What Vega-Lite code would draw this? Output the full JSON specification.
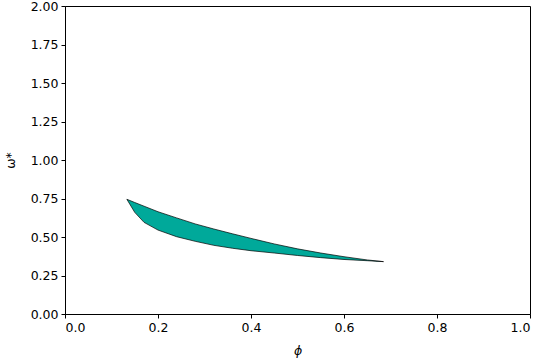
{
  "$schema": "https://vega.github.io/schema/vega-lite/v6.json",
  "width": 465,
  "height": 308,
  "autosize": "none",
  "padding": {"left": 65, "top": 6, "right": 10, "bottom": 46},
  "background": "white",
  "config": {
    "view": {"stroke": "black", "strokeWidth": 1},
    "font": "DejaVu Sans",
    "axis": {
      "grid": false,
      "domainColor": "black",
      "domainWidth": 1,
      "tickColor": "black",
      "tickSize": 4,
      "tickWidth": 1,
      "labelColor": "black",
      "labelFont": "DejaVu Sans",
      "labelFontSize": 12.5,
      "titleColor": "black",
      "titleFont": "DejaVu Sans",
      "titleFontSize": 12.5,
      "titleFontWeight": "normal",
      "labelPadding": 3
    }
  },
  "data": {
    "values": [
      {"phi": 0.133, "upper": 0.745, "lower": 0.745},
      {"phi": 0.15, "upper": 0.724, "lower": 0.66},
      {"phi": 0.17, "upper": 0.7, "lower": 0.595},
      {"phi": 0.2, "upper": 0.664, "lower": 0.545},
      {"phi": 0.24, "upper": 0.624, "lower": 0.502},
      {"phi": 0.28, "upper": 0.585, "lower": 0.472},
      {"phi": 0.32, "upper": 0.552, "lower": 0.446},
      {"phi": 0.36, "upper": 0.521, "lower": 0.427},
      {"phi": 0.4, "upper": 0.491, "lower": 0.411},
      {"phi": 0.45, "upper": 0.455, "lower": 0.396},
      {"phi": 0.5, "upper": 0.423, "lower": 0.38},
      {"phi": 0.55, "upper": 0.396, "lower": 0.366},
      {"phi": 0.6, "upper": 0.372, "lower": 0.354},
      {"phi": 0.65, "upper": 0.351, "lower": 0.346},
      {"phi": 0.685, "upper": 0.34, "lower": 0.34}
    ]
  },
  "mark": {"type": "area", "color": "#00a99a", "fill": "#00a99a", "stroke": "black", "strokeWidth": 0.7, "opacity": 1},
  "encoding": {
    "x": {
      "field": "phi", "type": "quantitative",
      "scale": {"domain": [0, 1], "nice": false, "zero": false},
      "axis": {"values": [0, 0.2, 0.4, 0.6, 0.8, 1.0], "format": ".1f", "title": "ϕ", "titleFontStyle": "italic", "titlePadding": 11}
    },
    "y": {
      "field": "upper", "type": "quantitative",
      "scale": {"domain": [0, 2], "nice": false, "zero": false},
      "axis": {"values": [0, 0.25, 0.5, 0.75, 1.0, 1.25, 1.5, 1.75, 2.0], "format": ".2f", "title": "ω*", "titlePadding": 13}
    },
    "y2": {"field": "lower"}
  }
}
